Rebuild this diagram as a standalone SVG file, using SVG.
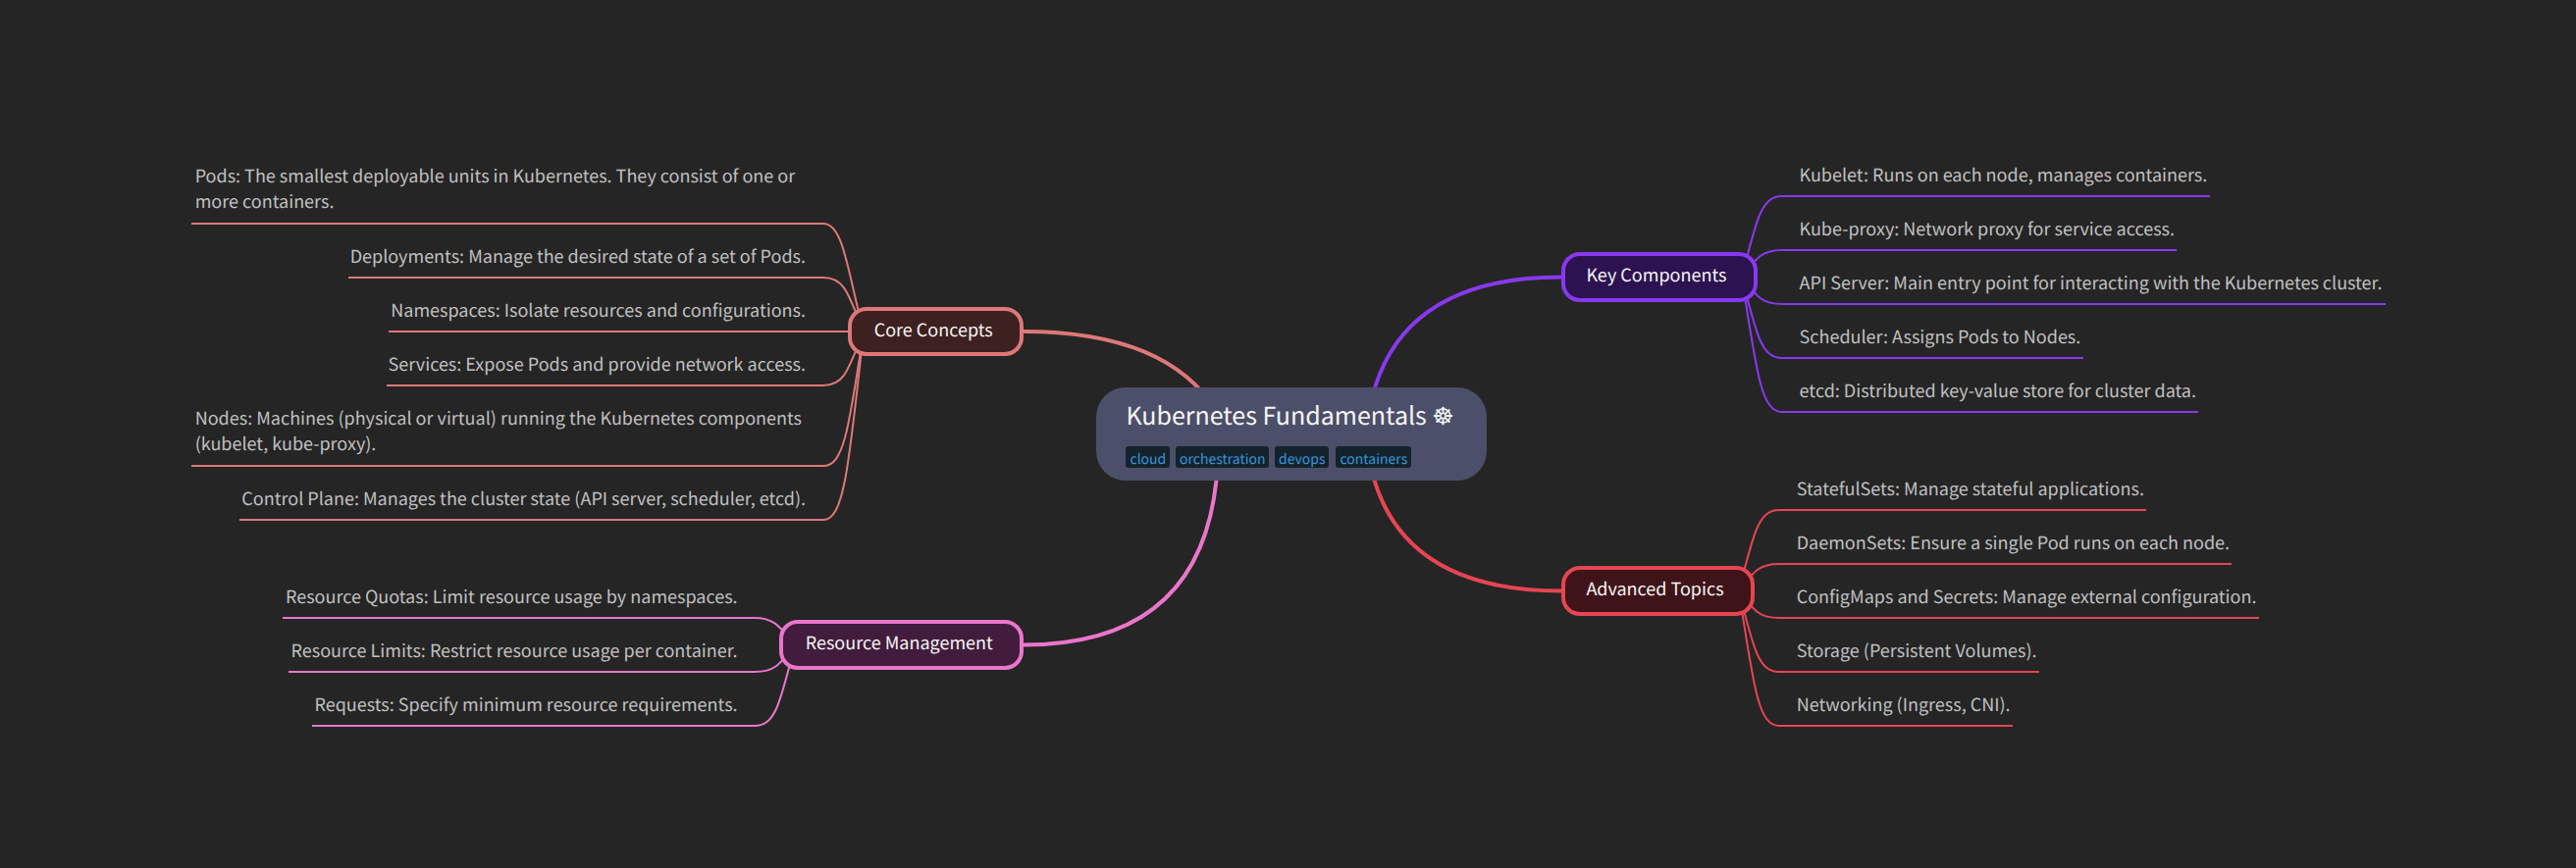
<svg xmlns="http://www.w3.org/2000/svg" width="2625" height="885" viewBox="0 0 2625 885">
<style>
text{font-family:"Noto Sans CJK SC","Noto Sans",sans-serif;text-rendering:geometricPrecision}
.leaf{font-size:18px;fill:#c0c0c0}
.end{text-anchor:end}
.title{font-size:18px;fill:#f5f5f5}
.root{font-size:25px;fill:#f5f5f5}
.tag{font-size:14px;fill:#3498db}
.tagbox{fill:#14222c}
.sub{fill:none;stroke-width:2}
.main{fill:none;stroke-width:4}
.node{stroke-width:4}
.c1{stroke:#dd7878}.c2{stroke:#ea76cb}.c3{stroke:#8839ef}.c4{stroke:#e64553}
</style>
<rect width="2625" height="885" fill="#252525"/>
<g id="connectors">
<path class="main c1" d="M1043 338Q1190 338 1240 420"/>
<path class="main c2" d="M1043 657.5Q1232 657.5 1241 470"/>
<path class="main c3" d="M1591 282.5Q1420 282.5 1395 420"/>
<path class="main c4" d="M1591 602.5Q1420 602.5 1395 467"/>
<g class="c1">
<path class="sub" d="M195 228H839C860 228 864 279 880 338"/>
<path class="sub" d="M355 283H839C860 283 864 298 880 338"/>
<path class="sub" d="M396 338H880"/>
<path class="sub" d="M394 393H839C860 393 864 378 880 338"/>
<path class="sub" d="M195 475H839C860 475 865 437 880 338"/>
<path class="sub" d="M244 530H839C860 530 865 476 880 338"/>
</g>
<g class="c2">
<path class="sub" d="M288 630H769C790 630 795 640 810 657.5"/>
<path class="sub" d="M294 685H769C790 685 795 677 810 657.5"/>
<path class="sub" d="M318 740H769C790 740 795 717 810 657.5"/>
</g>
<g class="c3">
<path class="sub" d="M2252 200H1816C1795 200 1790 223 1775 282.5"/>
<path class="sub" d="M2218 255H1816C1795 255 1790 263 1775 282.5"/>
<path class="sub" d="M2431 310H1816C1795 310 1790 302 1775 282.5"/>
<path class="sub" d="M2123 365H1816C1795 365 1790 342 1775 282.5"/>
<path class="sub" d="M2240 420H1816C1795 420 1790 381 1775 282.5"/>
</g>
<g class="c4">
<path class="sub" d="M2187 520H1813C1792 520 1787 543 1772 602.5"/>
<path class="sub" d="M2274 575H1813C1792 575 1787 583 1772 602.5"/>
<path class="sub" d="M2302 630H1813C1792 630 1787 622 1772 602.5"/>
<path class="sub" d="M2078 685H1813C1792 685 1787 662 1772 602.5"/>
<path class="sub" d="M2051 740H1813C1792 740 1787 701 1772 602.5"/>
</g>
</g>
<g id="root">
<rect x="1117" y="395" width="398" height="95" rx="30" fill="#4c4f69"/>
<text class="root" x="1147.500" y="433">Kubernetes Fundamentals ☸</text>
<rect class="tagbox" x="1147" y="455" width="45" height="22" rx="3"/><text class="tag" x="1151.500" y="473">cloud</text>
<rect class="tagbox" x="1198" y="455" width="95" height="22" rx="3"/><text class="tag" x="1202" y="473">orchestration</text>
<rect class="tagbox" x="1299" y="455" width="55" height="22" rx="3"/><text class="tag" x="1303" y="473">devops</text>
<rect class="tagbox" x="1361" y="455" width="77" height="22" rx="3"/><text class="tag" x="1365.500" y="473">containers</text>
</g>
<g id="core-concepts"><rect class="node c1" x="866" y="315" width="175" height="46" rx="17" fill="#3d2020"/><text class="title" x="890.700" y="343">Core Concepts</text></g>
<g id="resource-management"><rect class="node c2" x="796" y="634" width="245" height="47" rx="17" fill="#421c3c"/><text class="title" x="820.700" y="662">Resource Management</text></g>
<g id="key-components"><rect class="node c3" x="1593" y="259" width="196" height="47" rx="17" fill="#2c1250"/><text class="title" x="1616.400" y="287">Key Components</text></g>
<g id="advanced-topics"><rect class="node c4" x="1593" y="579" width="193" height="47" rx="17" fill="#3f1418"/><text class="title" x="1616.400" y="607">Advanced Topics</text></g>
<g id="pods"><text class="leaf" x="198.700" y="186">Pods: The smallest deployable units in Kubernetes. They consist of one or</text><text class="leaf" x="198.700" y="212">more containers.</text></g>
<g id="deployments"><text class="leaf end" x="821" y="267.700">Deployments: Manage the desired state of a set of Pods.</text></g>
<g id="namespaces"><text class="leaf end" x="821" y="322.700">Namespaces: Isolate resources and configurations.</text></g>
<g id="services"><text class="leaf end" x="821" y="377.700">Services: Expose Pods and provide network access.</text></g>
<g id="nodes"><text class="leaf" x="198.700" y="433">Nodes: Machines (physical or virtual) running the Kubernetes components</text><text class="leaf" x="198.700" y="459">(kubelet, kube-proxy).</text></g>
<g id="control-plane"><text class="leaf end" x="821" y="515">Control Plane: Manages the cluster state (API server, scheduler, etcd).</text></g>
<g id="resource-quotas"><text class="leaf end" x="751.600" y="615">Resource Quotas: Limit resource usage by namespaces.</text></g>
<g id="resource-limits"><text class="leaf end" x="751.600" y="670">Resource Limits: Restrict resource usage per container.</text></g>
<g id="requests"><text class="leaf end" x="751.600" y="725">Requests: Specify minimum resource requirements.</text></g>
<g id="kubelet"><text class="leaf" x="1833.600" y="185">Kubelet: Runs on each node, manages containers.</text></g>
<g id="kube-proxy"><text class="leaf" x="1833.600" y="240">Kube-proxy: Network proxy for service access.</text></g>
<g id="api-server"><text class="leaf" x="1833.600" y="295">API Server: Main entry point for interacting with the Kubernetes cluster.</text></g>
<g id="scheduler"><text class="leaf" x="1833.600" y="350">Scheduler: Assigns Pods to Nodes.</text></g>
<g id="etcd"><text class="leaf" x="1833.600" y="405">etcd: Distributed key-value store for cluster data.</text></g>
<g id="statefulsets"><text class="leaf" x="1830.700" y="505">StatefulSets: Manage stateful applications.</text></g>
<g id="daemonsets"><text class="leaf" x="1830.700" y="560">DaemonSets: Ensure a single Pod runs on each node.</text></g>
<g id="configmaps"><text class="leaf" x="1830.700" y="615">ConfigMaps and Secrets: Manage external configuration.</text></g>
<g id="storage"><text class="leaf" x="1830.700" y="670">Storage (Persistent Volumes).</text></g>
<g id="networking"><text class="leaf" x="1830.700" y="725">Networking (Ingress, CNI).</text></g>
</svg>
